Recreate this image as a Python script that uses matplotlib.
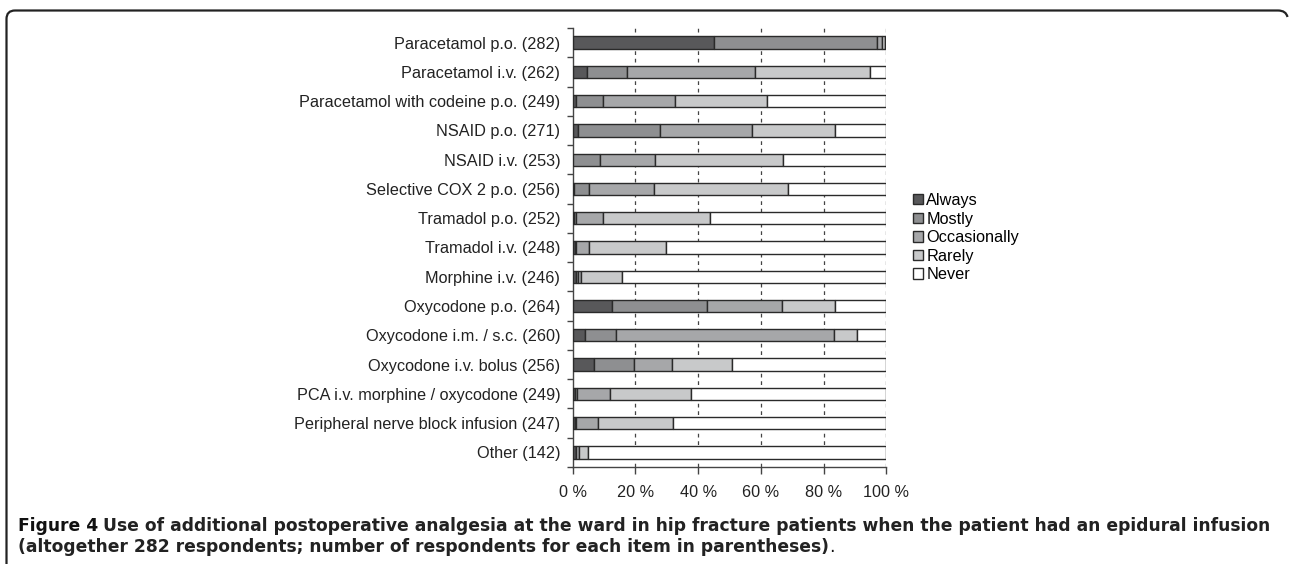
import matplotlib
matplotlib.use("Agg")
import matplotlib.pyplot as plt
from matplotlib.path import Path
from matplotlib.patches import PathPatch, Patch
import numpy as np

categories = [
    "Paracetamol p.o. (282)",
    "Paracetamol i.v. (262)",
    "Paracetamol with codeine p.o. (249)",
    "NSAID p.o. (271)",
    "NSAID i.v. (253)",
    "Selective COX 2 p.o. (256)",
    "Tramadol p.o. (252)",
    "Tramadol i.v. (248)",
    "Morphine i.v. (246)",
    "Oxycodone p.o. (264)",
    "Oxycodone i.m. / s.c. (260)",
    "Oxycodone i.v. bolus (256)",
    "PCA i.v. morphine / oxycodone (249)",
    "Peripheral nerve block infusion (247)",
    "Other (142)",
]
series_names = ["Always", "Mostly", "Occasionally", "Rarely", "Never"]
always       = [45.2, 4.7, 0.9, 1.6, 0.0, 0.4, 0.4, 0.6, 1.0, 12.6, 3.8, 6.7, 0.6, 0.6, 1.0]
mostly       = [51.7, 12.5, 8.7, 26.1, 8.8, 4.7, 0.8, 0.4, 0.8, 30.2, 9.9, 12.7, 0.8, 0.4, 0.0]
occasionally = [1.7, 41.0, 23.0, 29.6, 17.3, 20.7, 8.4, 4.3, 1.0, 24.0, 69.6, 12.3, 10.6, 7.2, 1.1]
rarely       = [1.1, 36.6, 29.2, 26.5, 40.9, 42.7, 34.2, 24.6, 13.0, 16.9, 7.2, 19.1, 25.7, 23.9, 2.9]
never        = [0.3, 5.2, 38.2, 16.2, 33.0, 31.5, 56.2, 70.1, 84.2, 16.3, 9.5, 49.2, 62.3, 67.9, 95.0]
colors = ["#58585a", "#8e8f91", "#a6a7a9", "#c8c9ca", "#ffffff"]
xtick_vals = [0, 20, 40, 60, 80, 100]
xtick_labels = ["0 %", "20 %", "40 %", "60 %", "80 %", "100 %"]

W, H = 1289, 564
fig = plt.figure(figsize=(W / 100, H / 100), dpi=100)
plt.rcParams["font.family"] = ["Liberation Sans", "DejaVu Sans"]
FS = 11.7

def fx(px):
    return px / W

def fy(py):
    return 1 - py / H

ax_l, ax_r, ax_t, ax_b = 572.7, 886.3, 28, 467
ax = fig.add_axes([fx(ax_l), fy(ax_b), fx(ax_r) - fx(ax_l), fy(ax_t) - fy(ax_b)])

n = len(categories)
ypos = np.arange(n)
data = [always, mostly, occasionally, rarely, never]
left = np.zeros(n)
for vals, name, col in zip(data, series_names, colors):
    vals = np.array(vals)
    ax.barh(ypos, vals, left=left, height=0.42, color=col, edgecolor="#2a2a2a",
            linewidth=1.0, label=name, zorder=3)
    left += vals

ax.set_xlim(0, 100)
ax.set_ylim(n - 0.5, -0.5)
ax.set_yticks(ypos)
ax.set_yticklabels(categories, fontsize=FS, color="#222222")
ax.tick_params(axis="y", length=0, pad=9)
ax.set_yticks(np.arange(-0.5, n, 1.0), minor=True)
ax.tick_params(axis="y", which="minor", length=4, width=1, color="#444444", direction="out")
ax.set_xticks(xtick_vals)
ax.set_xticklabels(xtick_labels, fontsize=FS, color="#222222")
ax.tick_params(axis="x", length=5, width=1, color="#444444", direction="out", pad=8)
for v in xtick_vals[1:]:
    ax.axvline(v, color="#444444", linestyle=(0, (3, 3)), linewidth=0.9, zorder=1)
for s in ["top", "right"]:
    ax.spines[s].set_visible(False)
for s in ["left", "bottom"]:
    ax.spines[s].set_color("#444444")
    ax.spines[s].set_linewidth(1.0)

handles = [Patch(facecolor=c, edgecolor="#2a2a2a", linewidth=1.0) for c in colors]
fig.legend(handles, series_names, loc="upper left", bbox_to_anchor=(fx(913), fy(193)),
           frameon=False, fontsize=FS, handlelength=0.6, handleheight=0.6,
           handletextpad=0.22, labelspacing=0.22, borderpad=0, borderaxespad=0)

# frame
verts = [(6.5, 564), (6.5, 19), (6.5, 10.5), (15, 10.5), (1278, 10.5), (1286, 10.5), (1287.5, 17)]
codes = [Path.MOVETO, Path.LINETO, Path.CURVE3, Path.CURVE3, Path.LINETO, Path.CURVE3, Path.CURVE3]
path = Path([(fx(x), fy(y)) for x, y in verts], codes)
fig.patches.append(PathPatch(path, facecolor="none", edgecolor="#222222", linewidth=1.6,
                             transform=fig.transFigure))

# caption
cap_font = ["DejaVu Sans"]
CFS = 12.3
t1 = fig.text(fx(18), fy(526), "Figure 4", fontsize=CFS, fontweight="bold",
              family=cap_font, color="#111111", va="center", ha="left")
fig.canvas.draw()
bb = t1.get_window_extent()
t2 = fig.text(bb.x1 / W + fx(5), fy(526),
              "Use of additional postoperative analgesia at the ward in hip fracture patients when the patient had an epidural infusion",
              fontsize=CFS, fontweight="bold", family=cap_font, color="#222222", va="center", ha="left")
t3 = fig.text(fx(18), fy(547),
              "(altogether 282 respondents; number of respondents for each item in parentheses)",
              fontsize=CFS, fontweight="bold", family=cap_font, color="#222222", va="center", ha="left")
fig.canvas.draw()
bb3 = t3.get_window_extent()
fig.text(bb3.x1 / W, fy(547), ".", fontsize=CFS, family=cap_font, color="#111111",
         va="center", ha="left")

fig.savefig("out.png", dpi=100)
